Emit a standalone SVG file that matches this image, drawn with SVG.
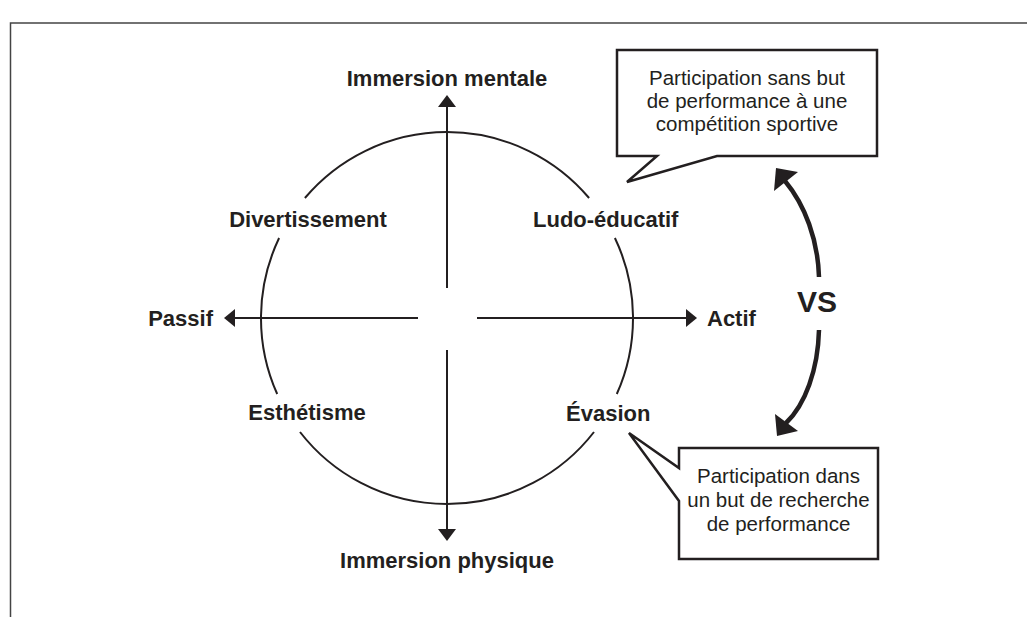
<svg xmlns="http://www.w3.org/2000/svg" width="1027" height="617" viewBox="0 0 1027 617">
<style>
.frame{fill:none;stroke:#444;stroke-width:1.5}
.ln{fill:none;stroke:#231f20;stroke-width:2}
.head{fill:#231f20}
.lbl{font-family:"Liberation Sans",Arial,Helvetica,sans-serif;font-weight:bold;font-size:22px;fill:#231f20}
.call{fill:#fff;stroke:#231f20;stroke-width:2.5;stroke-linejoin:miter}
.ct{font-family:"Liberation Sans",Arial,Helvetica,sans-serif;font-size:20.5px;fill:#231f20;text-anchor:middle}
.vs{fill:none;stroke:#231f20;stroke-width:4.5}
</style>
<rect width="1027" height="617" fill="#fff"/>
<path class="frame" d="M10.5,617 V23 H1027"/>
<g id="circle">
<path class="ln" d="M304.9,198 A186,186 0 0 1 589.1,198"/>
<path class="ln" d="M614.9,238 A186,186 0 0 1 616.8,394"/>
<path class="ln" d="M594,432 A186,186 0 0 1 300,432"/>
<path class="ln" d="M277.2,394 A186,186 0 0 1 279.1,238"/>
</g>
<g id="connectors">
<path class="ln" d="M447,107 V288"/>
<path class="ln" d="M447,350 V529"/>
<path class="ln" d="M235,318 H418"/>
<path class="ln" d="M477,318 H686"/>
<polygon class="head" points="447,95 456,107 438,107"/>
<polygon class="head" points="447,541 456,529 438,529"/>
<polygon class="head" points="224,318 235,309 235,327"/>
<polygon class="head" points="697,318 686,309 686,327"/>
<path class="vs" d="M819,277 C818,240 805,205 785,181"/>
<polygon class="head" points="776,168 798,172 774,191"/>
<path class="vs" d="M819,330 C818,370 805,405 786,423"/>
<polygon class="head" points="777,436 775,414 798,431"/>
</g>
<g id="immersion-mentale"><text class="lbl" x="447" y="86" text-anchor="middle">Immersion mentale</text></g>
<g id="immersion-physique"><text class="lbl" x="447" y="568" text-anchor="middle">Immersion physique</text></g>
<g id="passif"><text class="lbl" x="213" y="326" text-anchor="end">Passif</text></g>
<g id="actif"><text class="lbl" x="707" y="326">Actif</text></g>
<g id="divertissement"><text class="lbl" x="308" y="227" text-anchor="middle">Divertissement</text></g>
<g id="ludo-educatif"><text class="lbl" x="533" y="227">Ludo-éducatif</text></g>
<g id="esthetisme"><text class="lbl" x="307" y="420" text-anchor="middle">Esthétisme</text></g>
<g id="evasion"><text class="lbl" x="566" y="421">Évasion</text></g>
<g id="vs"><text class="lbl" x="817" y="312" text-anchor="middle" style="font-size:30px">VS</text></g>
<g id="callout-1">
<path class="call" d="M617,50 H877 V156 H717 L627,182 L657,156 H617 Z"/>
<text class="ct" x="747" y="85">Participation sans but</text>
<text class="ct" x="747" y="108">de performance à une</text>
<text class="ct" x="747" y="131">compétition sportive</text>
</g>
<g id="callout-2">
<path class="call" d="M679,448 H878 V559 H679 V501 L629,433 L679,468 Z"/>
<text class="ct" x="778.5" y="483">Participation dans</text>
<text class="ct" x="778.5" y="507">un but de recherche</text>
<text class="ct" x="778.5" y="531">de performance</text>
</g>
</svg>
